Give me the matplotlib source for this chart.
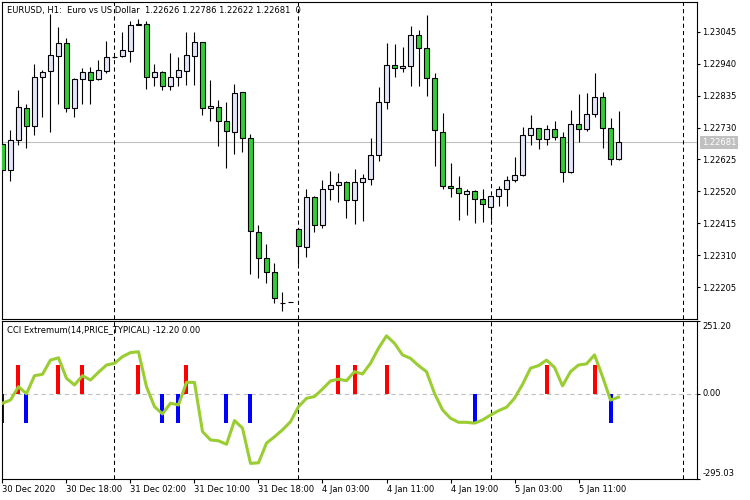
import matplotlib.pyplot as plt
import numpy as np

# EURUSD H1 candles, 30 Dec 2020 10:00 .. 5 Jan 2021 15:00 (one per bar)
opens = [1.22676, 1.22591, 1.22688, 1.22794, 1.22735, 1.22895, 1.22916, 1.22965, 1.23007, 1.22794,
         1.22889, 1.22913, 1.22889, 1.22916, 1.22963, 1.22965, 1.22983, 1.23067, 1.23069, 1.22897,
         1.22912, 1.22867, 1.22897, 1.22917, 1.22965, 1.23010, 1.22794, 1.22797, 1.22751, 1.22715,
         1.22846, 1.22695, 1.22387, 1.22302, 1.22256, 1.22153, 1.22157, 1.22397, 1.22338, 1.22502,
         1.22409, 1.22528, 1.22540, 1.22551, 1.22491, 1.22551, 1.22559, 1.22638, 1.22813, 1.22935,
         1.22925, 1.22932, 1.23036, 1.22991, 1.22892, 1.22714, 1.22539, 1.22531, 1.22512, 1.22521,
         1.22495, 1.22469, 1.22504, 1.22528, 1.22556, 1.22574, 1.22704, 1.22728, 1.22692, 1.22725,
         1.22699, 1.22583, 1.22741, 1.22725, 1.22774, 1.22830, 1.22728, 1.22626]
highs = [1.22680, 1.22723, 1.22854, 1.22807, 1.22939, 1.22919, 1.23103, 1.23061, 1.23023, 1.22892,
         1.22925, 1.22930, 1.22952, 1.23014, 1.22966, 1.23043, 1.23081, 1.23087, 1.23081, 1.22939,
         1.22915, 1.22976, 1.22961, 1.23043, 1.23043, 1.23012, 1.22887, 1.22821, 1.22815, 1.22873,
         1.22847, 1.22709, 1.22409, 1.22348, 1.22283, 1.22190, 1.22157, 1.22400, 1.22528, 1.22504,
         1.22558, 1.22588, 1.22581, 1.22555, 1.22595, 1.22578, 1.22695, 1.22863, 1.23009, 1.23005,
         1.22994, 1.23064, 1.23051, 1.23100, 1.22911, 1.22777, 1.22613, 1.22572, 1.22529, 1.22525,
         1.22528, 1.22506, 1.22539, 1.22572, 1.22634, 1.22733, 1.22772, 1.22730, 1.22739, 1.22750,
         1.22714, 1.22788, 1.22841, 1.22843, 1.22911, 1.22848, 1.22761, 1.22786]
lows = [1.22585, 1.22553, 1.22671, 1.22664, 1.22706, 1.22766, 1.22714, 1.22807, 1.22781, 1.22764,
        1.22807, 1.22807, 1.22885, 1.22910, 1.22960, 1.22963, 1.22947, 1.23066, 1.22856, 1.22865,
        1.22854, 1.22854, 1.22865, 1.22870, 1.22870, 1.22772, 1.22750, 1.22670, 1.22597, 1.22644,
        1.22651, 1.22249, 1.22234, 1.22217, 1.22152, 1.22127, 1.22157, 1.22280, 1.22304, 1.22386,
        1.22398, 1.22493, 1.22484, 1.22433, 1.22411, 1.22422, 1.22540, 1.22619, 1.22790, 1.22897,
        1.22914, 1.22868, 1.22865, 1.22835, 1.22605, 1.22528, 1.22501, 1.22425, 1.22441, 1.22417,
        1.22419, 1.22427, 1.22471, 1.22471, 1.22550, 1.22569, 1.22673, 1.22660, 1.22673, 1.22690,
        1.22550, 1.22581, 1.22684, 1.22717, 1.22766, 1.22663, 1.22608, 1.22622]
closes = [1.22591, 1.22688, 1.22796, 1.22735, 1.22895, 1.22914, 1.22969, 1.23007, 1.22794, 1.22889,
          1.22913, 1.22887, 1.22918, 1.22961, 1.22963, 1.22985, 1.23067, 1.23069, 1.22897, 1.22912,
          1.22867, 1.22897, 1.22918, 1.22968, 1.23010, 1.22794, 1.22801, 1.22752, 1.22717, 1.22843,
          1.22695, 1.22389, 1.22302, 1.22256, 1.22170, 1.22153, 1.22157, 1.22340, 1.22502, 1.22409,
          1.22528, 1.22542, 1.22551, 1.22491, 1.22551, 1.22564, 1.22640, 1.22813, 1.22935, 1.22925,
          1.22932, 1.23034, 1.22991, 1.22892, 1.22723, 1.22539, 1.22531, 1.22513, 1.22521, 1.22495,
          1.22477, 1.22504, 1.22528, 1.22558, 1.22575, 1.22706, 1.22728, 1.22692, 1.22725, 1.22699,
          1.22583, 1.22741, 1.22725, 1.22774, 1.22830, 1.22728, 1.22626, 1.22681]

# CCI(14) values per bar
cci = [-33, -22, 24, 0, 62, 67, 116, 124, 53, 30,
       62, 47, 74, 99, 105, 128, 142, 145, 24, -45,
       -70, -33, -39, 39, 39, -131, -160, -163, -175, -93,
       -119, -241, -239, -171, -149, -125, -97, -45, -16, -10,
       16, 44, 50, 45, 76, 68, 105, 157, 200, 174,
       134, 122, 97, 76, 1, -56, -85, -99, -99, -102,
       -91, -74, -59, -47, -16, 32, 88, 97, 116, 91,
       27, 76, 99, 103, 134, 59, -22, -12.2]
red_bars = [2, 7, 10, 17, 23, 42, 44, 48, 68, 74]
blue_bars = [0, 3, 20, 22, 28, 31, 59, 76]

day_breaks = [14, 37, 61, 85]
time_ticks = [0, 8, 16, 24, 32, 40, 48, 56, 64, 72]
time_labels = ["30 Dec 2020", "30 Dec 18:00", "31 Dec 02:00", "31 Dec 10:00", "31 Dec 18:00",
               "4 Jan 03:00", "4 Jan 11:00", "4 Jan 19:00", "5 Jan 03:00", "5 Jan 11:00"]
price_ticks = [1.23045, 1.22940, 1.22835, 1.22730, 1.22625, 1.22520, 1.22415, 1.22310, 1.22205]
last_price = 1.22681

W, H = 750, 500
FS = 6


def box(x0, y0, x1, y1):
    return [x0 / W, 1 - y1 / H, (x1 - x0) / W, (y1 - y0) / H]


fig = plt.figure(figsize=(7.5, 5), dpi=100)
ax = fig.add_axes(box(2, 2, 697, 319))
ax2 = fig.add_axes(box(2, 321, 697, 479))

x = np.arange(len(opens))
o = np.array(opens)
c = np.array(closes)
up = c >= o
xlim = (-0.06, 86.81)

# candles
ax.vlines(x, lows, highs, color="black", lw=0.8, zorder=2)
ax.bar(x, np.abs(c - o), bottom=np.minimum(o, c), width=0.6,
       color=np.where(up, "#E6E6FA", "#32CD32"), edgecolor="black", linewidth=0.8, zorder=3)
ax.axhline(last_price, color="#C0C0C0", lw=0.8, zorder=1)
ax.set_xlim(*xlim)
ax.set_ylim(1.22100, 1.23143)
ax.yaxis.tick_right()
ax.set_yticks(price_ticks)
ax.set_yticklabels([f"{p:.5f}" for p in price_ticks])
ax.tick_params(axis="y", direction="out", length=2.5, width=0.8, pad=1.5, labelsize=FS)
ax.tick_params(axis="x", bottom=False, labelbottom=False)
ax.annotate(f"{last_price:.5f}", xy=(1, last_price), xycoords=("axes fraction", "data"),
            xytext=(3.5, 0), textcoords="offset points", va="center", ha="left",
            fontsize=FS, color="white",
            bbox=dict(boxstyle="square,pad=0.25", fc="#C0C0C0", ec="none"))

# CCI panel
ax2.bar(red_bars, 100, width=0.5, color="red", zorder=2)
ax2.bar(blue_bars, -100, width=0.5, color="blue", zorder=2)
ax2.plot(x, cci, color="#9ACD32", lw=2.2, zorder=3)
ax2.axhline(0, color="#C0C0C0", ls=(0, (4, 3)), lw=0.8, zorder=1)
ax2.set_xlim(*xlim)
ax2.set_ylim(-295.03, 251.20)
ax2.yaxis.tick_right()
ax2.set_yticks([-295.03, 0, 251.20])
ax2.set_yticklabels([])
ax2.tick_params(axis="y", direction="out", length=2.5, width=0.8)
for val, dy, va in [(251.20, -1, "top"), (0, 0, "center"), (-295.03, 1, "bottom")]:
    ax2.annotate(f"{val:.2f}", xy=(1, val), xycoords=("axes fraction", "data"),
                 xytext=(4, dy), textcoords="offset points", va=va, ha="left", fontsize=FS)
ax2.set_xticks(time_ticks)
ax2.set_xticklabels(time_labels)
plt.setp(ax2.get_xticklabels(), ha="left")
ax2.tick_params(axis="x", direction="out", length=3, width=0.8, pad=1.5, labelsize=FS)

for a in (ax, ax2):
    for d in day_breaks:
        a.axvline(d, color="black", ls=(0, (4, 3)), lw=0.75, zorder=1)
    for s in a.spines.values():
        s.set_linewidth(0.8)

fig.text(7 / W, 1 - 10 / H, "EURUSD, H1:  Euro vs US Dollar  1.22626 1.22786 1.22622 1.22681  0",
         fontsize=FS, va="center", ha="left")
fig.text(7 / W, 1 - 330 / H, "CCI Extremum(14,PRICE_TYPICAL) -12.20 0.00",
         fontsize=FS, va="center", ha="left")

fig.savefig("out.png", dpi=100)
